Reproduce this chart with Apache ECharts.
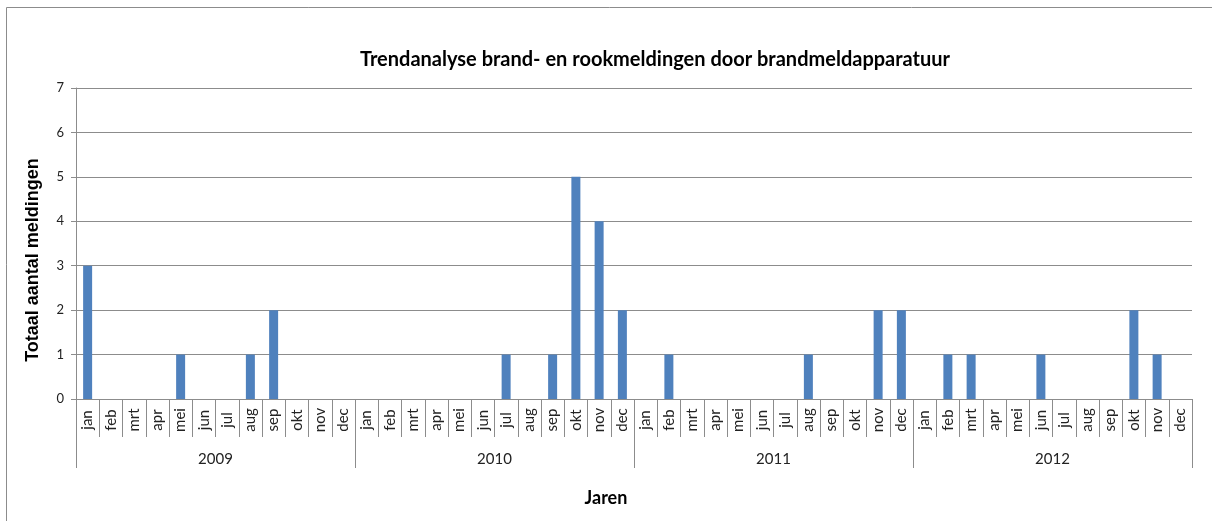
<!DOCTYPE html>
<html>
<head>
<meta charset="utf-8">
<script src="https://cdn.jsdelivr.net/npm/echarts@6/dist/echarts.min.js"></script>
<style>
  html, body { margin: 0; padding: 0; background: #fff; }
  #chart { width: 1212px; height: 521px; }
</style>
</head>
<body>
<div id="chart"></div>
<script>
const years = ['2009', '2010', '2011', '2012'];
const months = ['jan', 'feb', 'mrt', 'apr', 'mei', 'jun', 'jul', 'aug', 'sep', 'okt', 'nov', 'dec'];
const meldingen2009 = [3, 0, 0, 0, 1, 0, 0, 1, 2, 0, 0, 0];
const meldingen2010 = [0, 0, 0, 0, 0, 0, 1, 0, 1, 5, 4, 2];
const meldingen2011 = [0, 1, 0, 0, 0, 0, 0, 1, 0, 0, 2, 2];
const meldingen2012 = [0, 1, 1, 0, 0, 1, 0, 0, 0, 2, 1, 0];

const categories = years.flatMap(() => months);
const values = [...meldingen2009, ...meldingen2010, ...meldingen2011, ...meldingen2012];

const font = 'Lato, "Open Sans", sans-serif';
const gray = '#8c8c8c';

const chart = echarts.init(document.getElementById('chart'));
chart.setOption({
  animation: false,
  title: {
    text: 'Trendanalyse brand- en rookmeldingen door brandmeldapparatuur',
    left: 650,
    top: 45,
    textAlign: 'center',
    textStyle: { fontFamily: font, fontSize: 20, fontWeight: 'bold', color: '#000' }
  },
  graphic: [
    {
      type: 'rect',
      shape: { x: 6.5, y: 7.5, width: 1230, height: 540 },
      style: { fill: 'none', stroke: gray, lineWidth: 1 },
      silent: true
    },
    {
      type: 'text',
      x: 33,
      y: 260,
      rotation: Math.PI / 2,
      style: {
        text: 'Totaal aantal meldingen',
        font: 'bold 18px "Liberation Sans", Arial, sans-serif',
        fill: '#000',
        align: 'center',
        verticalAlign: 'middle'
      }
    },
    {
      type: 'text',
      x: 606,
      y: 498,
      style: {
        text: 'Jaren',
        font: 'bold 18px Lato, sans-serif',
        fill: '#000',
        align: 'center',
        verticalAlign: 'middle'
      }
    }
  ],
  grid: { left: 76, right: 20, top: 88, bottom: 122 },
  xAxis: [
    {
      type: 'category',
      data: categories,
      boundaryGap: true,
      axisLine: { lineStyle: { color: gray } },
      axisTick: { show: true, interval: 0, length: 38, lineStyle: { color: gray } },
      axisLabel: {
        interval: 0,
        rotate: 90,
        align: 'center',
        margin: 21,
        fontFamily: font,
        fontSize: 15,
        color: '#222'
      },
      splitLine: { show: false }
    },
    {
      type: 'category',
      data: years,
      position: 'bottom',
      boundaryGap: true,
      axisLine: { show: false },
      axisTick: { show: true, interval: 0, length: 69, lineStyle: { color: gray } },
      axisLabel: {
        interval: 0,
        margin: 53,
        fontFamily: font,
        fontSize: 15,
        color: '#222'
      },
      splitLine: { show: false }
    }
  ],
  yAxis: {
    type: 'value',
    min: 0,
    max: 7,
    interval: 1,
    axisLine: { show: true, lineStyle: { color: gray } },
    axisTick: { show: true, length: 5, lineStyle: { color: gray } },
    axisLabel: { margin: 12, fontFamily: font, fontSize: 13, color: '#222' },
    splitLine: { lineStyle: { color: gray, width: 1 } }
  },
  series: [
    {
      type: 'bar',
      xAxisIndex: 0,
      data: values,
      barWidth: 9,
      itemStyle: { color: '#4f81bd' }
    }
  ]
});
</script>
</body>
</html>
